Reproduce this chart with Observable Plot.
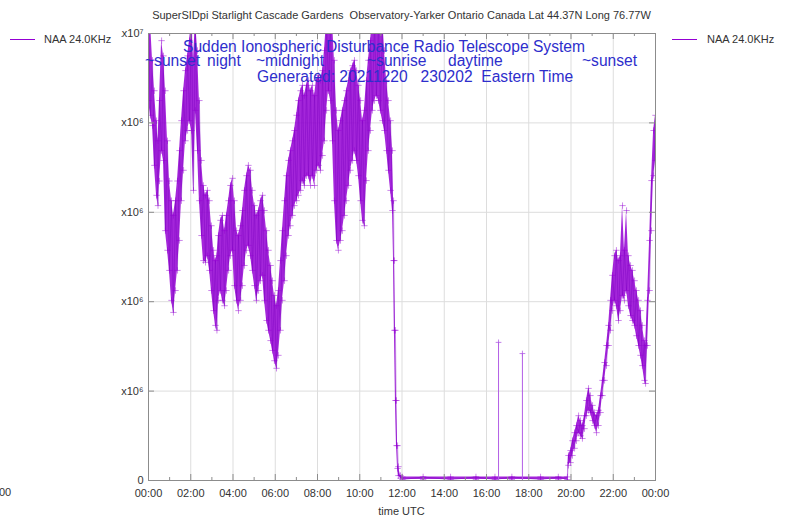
<!DOCTYPE html>
<html><head><meta charset="utf-8">
<script src="https://cdn.jsdelivr.net/npm/d3@7"></script>
<script src="https://cdn.jsdelivr.net/npm/@observablehq/plot@0.6"></script>
<style>
body{margin:0;background:#fff;}
#wrap{position:relative;width:788px;height:519px;overflow:hidden;font-family:"Liberation Sans",Arial,sans-serif;background:#fff;}
#chart{position:absolute;left:0;top:0;clip-path:inset(0 0 0 121px);}
.t{position:absolute;white-space:pre;font-size:11px;color:#333;line-height:12px;}
.blue{position:absolute;white-space:pre;color:#2e2ecc;font-size:15.6px;line-height:16px;}
.leg{position:absolute;height:1px;background:#9400d3;}
</style></head>
<body>
<div id="wrap">
  <div id="chart"></div>
</div>
<script>
// ---- data (values in units of 1e6, time in hours UTC) ----
const hours = [0.00,0.09,0.19,0.28,0.38,0.45,0.52,0.62,0.71,0.80,0.90,0.99,1.09,1.18,1.28,1.37,1.47,1.56,1.66,1.75,1.85,1.94,2.04,2.13,2.22,2.32,2.41,2.51,2.60,2.70,2.79,2.89,2.98,3.08,3.17,3.24,3.31,3.41,3.50,3.60,3.69,3.79,3.88,3.98,4.07,4.17,4.26,4.36,4.45,4.54,4.64,4.73,4.83,4.92,5.02,5.11,5.21,5.30,5.40,5.49,5.59,5.68,5.78,5.87,5.96,6.06,6.15,6.25,6.34,6.44,6.53,6.63,6.72,6.82,6.91,7.01,7.10,7.20,7.29,7.38,7.48,7.57,7.67,7.76,7.86,7.95,8.05,8.14,8.24,8.33,8.43,8.52,8.62,8.71,8.80,8.90,8.99,9.09,9.18,9.28,9.37,9.47,9.56,9.66,9.75,9.85,9.94,10.04,10.13,10.22,10.32,10.41,10.51,10.60,10.70,10.79,10.89,10.98,11.08,11.17,11.27,11.36,11.46,11.55,11.60,11.64,11.69,11.74,11.79,11.83,11.93,12.02,13.00,14.30,15.50,16.40,17.20,18.56,19.40,19.83,19.88,19.98,20.07,20.17,20.26,20.36,20.45,20.54,20.64,20.73,20.83,20.92,21.02,21.11,21.21,21.30,21.40,21.49,21.59,21.68,21.78,21.87,21.96,22.06,22.15,22.25,22.34,22.44,22.53,22.63,22.72,22.82,22.91,23.01,23.10,23.20,23.29,23.38,23.48,23.53,23.62,23.72,23.81,23.91,24.00];
const high = [10.3,10.3,9.4,8.72,8.05,7.6,8.5,9.84,9.5,8.72,7.6,6.7,6.26,5.93,6.26,6.7,7.38,8.05,8.72,9.17,9.5,9.84,10.3,9.4,10.3,9.62,8.5,7.16,6.6,6.38,6.49,6.26,5.7,5.15,4.92,5.03,5.48,5.82,5.93,5.59,5.93,6.26,6.6,6.76,6.26,5.59,5.48,5.7,6.04,6.49,6.82,7.05,6.94,6.49,6.15,5.93,6.04,6.26,6.38,6.04,5.59,5.15,4.81,4.47,4.14,3.91,4.25,4.92,5.59,6.26,6.82,7.16,7.38,7.6,7.83,8.17,8.5,8.72,8.84,8.61,8.84,8.95,8.72,8.84,8.61,8.95,9.06,8.95,9.17,9.62,10.3,10.3,10.3,10.3,9.4,8.28,7.83,8.05,8.28,8.5,8.72,8.95,9.17,9.28,9.4,9.17,8.84,8.5,8.05,8.28,8.95,9.4,9.84,10.3,10.3,10.3,10.3,10.3,10.3,9.62,8.95,8.5,8.05,7.38,6.26,4.92,3.36,1.79,0.78,0.31,0.11,0.08,0.08,0.08,0.08,0.08,0.08,0.08,0.08,0.08,0.56,0.67,0.89,1.07,1.23,1.45,1.34,1.23,1.45,1.79,2.06,1.9,1.68,1.52,1.45,1.57,1.9,2.24,2.64,3.02,3.47,4.03,4.59,5.03,5.15,4.92,5.03,6.15,5.15,6.04,5.03,4.81,4.7,4.47,4.25,4.03,3.8,3.47,3.13,3.02,4.03,5.37,6.71,7.83,8.17];
const low = [8.5,8.17,7.94,7.05,6.38,6.15,6.7,7.38,7.16,5.59,5.15,4.7,4.03,3.76,4.25,4.7,5.37,6.26,6.94,7.6,7.83,8.05,7.83,6.49,8.28,7.38,6.26,5.48,4.92,4.88,5.03,4.7,4.25,3.8,3.47,3.36,4.03,4.25,4.03,3.91,4.25,4.7,5.03,5.15,4.36,4.03,3.8,4.03,4.36,4.81,5.15,5.26,5.03,4.7,4.36,4.03,4.25,4.47,4.59,4.03,3.58,3.36,3.13,2.91,2.68,2.51,2.8,3.36,4.03,4.47,5.03,5.48,5.7,5.93,6.15,6.26,6.38,6.49,6.71,6.6,6.82,6.82,6.6,6.82,6.6,6.94,7.05,6.94,7.27,7.6,8.28,8.72,8.5,7.6,6.26,5.37,5.15,5.37,5.59,5.93,6.26,6.6,6.94,7.16,7.38,7.16,6.82,6.26,5.82,5.7,6.71,7.38,7.83,8.28,8.5,8.61,8.5,8.28,8.05,7.83,7.38,6.94,6.49,6.04,4.92,3.36,1.79,0.78,0.27,0.11,0.05,0.02,0.02,0.02,0.02,0.02,0.02,0.02,0.02,0.02,0.34,0.4,0.56,0.72,0.89,1.07,1.0,0.94,1.16,1.45,1.57,1.52,1.34,1.23,1.07,1.23,1.52,1.9,2.24,2.57,3.02,3.36,3.8,4.03,3.91,3.58,3.8,4.14,4.03,4.25,3.91,3.69,3.58,3.47,3.24,3.02,2.8,2.57,2.24,2.17,3.02,4.25,5.59,6.82,7.16];
// isolated daytime spikes
const spikeHours = [16.57, 17.70];
const spikeValues = [3.09, 2.84];
// axes
const xMajor = [0,2,4,6,8,10,12,14,16,18,20,22,24];
const xMinor = [1,3,5,7,9,11,13,15,17,19,21,23];
const yTicks = [0,2,4,6,8,10];
const yTickLabels = ["0","2x10⁶","4x10⁶","6x10⁶","8x10⁶","1x10⁷"];
const xTickLabels = ["00:00","02:00","04:00","06:00","08:00","10:00","12:00","14:00","16:00","18:00","20:00","22:00","00:00"];
const seriesName = "NAA 24.0KHz";
const title = "SuperSIDpi Starlight Cascade Gardens  Observatory-Yarker Ontario Canada Lat 44.37N Long 76.77W";

const env = hours.map((h,i)=>({h, lo: low[i], hi: high[i]}));
const pts = env.flatMap(d=>[{h:d.h, v:d.hi},{h:d.h, v:d.lo}]);
const zig = env.map((d,i)=>({h:d.h, v: i%2 ? d.lo : d.hi}));
const spikes = spikeHours.map((h,i)=>({h, v: spikeValues[i]}));
const purple = "#9400d3";

const chart = Plot.plot({
  width: 788, height: 519,
  marginLeft: 148, marginRight: 133, marginTop: 33, marginBottom: 39,
  x: {domain: [0,24]},
  y: {domain: [0,10]},
  style: {fontFamily: "Liberation Sans, Arial, sans-serif", fontSize: "11px", color: "#333", background: "transparent"},
  marks: [
    Plot.ruleX(xMajor, {stroke: "#ddd", strokeWidth: 1}),
    Plot.ruleY(yTicks, {stroke: "#ddd", strokeWidth: 1}),
    Plot.areaY(env, {x: "h", y1: "lo", y2: "hi", fill: purple, fillOpacity: 0.85, clip: true}),
    Plot.line(zig, {x: "h", y: "v", stroke: "#7a00c0", strokeWidth: 0.7, strokeOpacity: 0.6, clip: true}),
    Plot.dot(pts, {x: "h", y: "v", symbol: "plus", r: 2.2, stroke: purple, strokeWidth: 0.8, strokeOpacity: 0.6, clip: true}),
    Plot.ruleX(spikes, {x: "h", y1: 0, y2: "v", stroke: "#b35ee6", strokeWidth: 1}),
    Plot.dot(spikes, {x: "h", y: "v", symbol: "plus", r: 2, stroke: "#b35ee6", strokeWidth: 0.8}),
    Plot.frame({stroke: "#8c8c8c"}),
    Plot.ruleX(xMajor, {y1: 0, y2: 0.134, stroke: "#8c8c8c"}),
    Plot.ruleX(xMajor, {y1: 10, y2: 9.866, stroke: "#8c8c8c"}),
    Plot.ruleX(xMinor, {y1: 0, y2: 0.067, stroke: "#8c8c8c"}),
    Plot.ruleX(xMinor, {y1: 10, y2: 9.933, stroke: "#8c8c8c"}),
    Plot.ruleY(yTicks, {x1: 0, x2: 0.284, stroke: "#8c8c8c"}),
    Plot.ruleY(yTicks, {x1: 24, x2: 23.716, stroke: "#8c8c8c"}),
    Plot.axisX({ticks: xMajor, tickSize: 0, tickPadding: 9, tickFormat: d=>xTickLabels[xMajor.indexOf(d)], label: null}),
    Plot.axisY({ticks: yTicks, tickSize: 0, tickPadding: 5, tickFormat: d=>yTickLabels[yTicks.indexOf(d)], label: null})
  ]
});
document.getElementById("chart").appendChild(chart);

const wrap = document.getElementById("wrap");
function add(cls, text, css){ const e=document.createElement("div"); e.className=cls; e.textContent=text; Object.assign(e.style, css); wrap.appendChild(e); return e; }
add("t", title, {left:"148px", width:"507px", textAlign:"center", top:"9px"});
add("t", "time UTC", {left:"148px", width:"507px", textAlign:"center", top:"505px"});
// legends (right and clipped left neighbour)
add("leg", "", {left:"672px", width:"25px", top:"39px"});
add("t", seriesName, {left:"707px", top:"33px"});
add("leg", "", {left:"10px", width:"25px", top:"39px"});
add("t", seriesName, {left:"44px", top:"33px"});
add("t", "00", {left:"-1px", top:"486px"});
// blue annotation lines
add("blue", "Sudden Ionospheric Disturbance Radio Telescope System", {left:"183px", top:"39px"});
add("blue", "~sunset", {left:"145px", top:"53px"});
add("blue", "night", {left:"207px", top:"53px"});
add("blue", "~midnight", {left:"256px", top:"53px"});
add("blue", "~sunrise", {left:"367px", top:"53px"});
add("blue", "daytime", {left:"448px", top:"53px"});
add("blue", "~sunset", {left:"582px", top:"53px"});
add("blue", "Generated: 20211220   230202  Eastern Time", {left:"257px", top:"69px"});
</script>
</body></html>
